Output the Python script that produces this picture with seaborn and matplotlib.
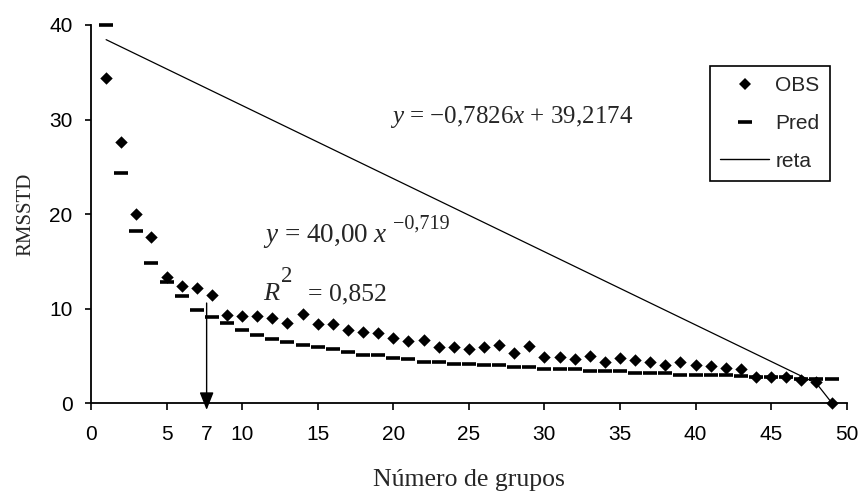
import matplotlib
matplotlib.use("Agg")
import matplotlib.pyplot as plt
import numpy as np
import pandas as pd
import seaborn as sns
from matplotlib.lines import Line2D

# ---------------- data ----------------
groups = list(range(1, 50))
obs = [34.4, 27.6, 20.0, 17.6, 13.4, 12.4, 12.2, 11.5, 9.3, 9.2,
       9.2, 9.0, 8.5, 9.4, 8.4, 8.4, 7.8, 7.5, 7.4, 6.9,
       6.6, 6.7, 6.0, 6.0, 5.7, 6.0, 6.2, 5.3, 6.1, 4.9,
       4.9, 4.7, 5.0, 4.4, 4.75, 4.6, 4.4, 4.05, 4.4, 4.05,
       3.95, 3.77, 3.6, 2.8, 2.8, 2.8, 2.5, 2.2, 0.07]
pred = [40.0, 24.3, 18.2, 14.8, 12.8, 11.3, 9.9, 9.1, 8.5, 7.8,
        7.2, 6.8, 6.5, 6.2, 5.9, 5.7, 5.4, 5.1, 5.1, 4.8,
        4.65, 4.4, 4.4, 4.2, 4.2, 4.0, 4.0, 3.8, 3.8, 3.6,
        3.6, 3.6, 3.45, 3.45, 3.45, 3.25, 3.25, 3.25, 3.0, 3.0,
        3.0, 3.0, 2.9, 2.75, 2.75, 2.75, 2.6, 2.6, 2.55]
reta_x = [1, 48, 49]
reta_y = [38.45, 2.1, 0.07]
x_ticks = [0, 5, 10, 15, 20, 25, 30, 35, 40, 45, 50]
y_ticks = [0, 10, 20, 30, 40]
cut_x = 7.65
cut_top = 10.6
cut_label = "7"
legend_labels = ["OBS", "Pred", "reta"]

df = pd.DataFrame({"grupos": groups, "OBS": obs, "Pred": pred})
df_reta = pd.DataFrame({"grupos": reta_x, "reta": reta_y})

# ---------------- style ----------------
sns.set_style("ticks")
plt.rcParams["font.family"] = ["Liberation Sans", "DejaVu Sans"]
plt.rcParams["mathtext.fontset"] = "custom"
plt.rcParams["mathtext.it"] = "Liberation Serif:italic"
plt.rcParams["mathtext.rm"] = "Liberation Serif"
plt.rcParams["axes.edgecolor"] = "black"
plt.rcParams["xtick.color"] = "black"
plt.rcParams["ytick.color"] = "black"

fig, ax = plt.subplots(figsize=(8.61, 4.95), dpi=100)
fig.subplots_adjust(left=0.1057, right=0.9834, bottom=0.1853, top=0.9495)

sns.lineplot(data=df_reta, x="grupos", y="reta", color="black", linewidth=0.9,
             ax=ax, legend=False)
sns.scatterplot(data=df, x="grupos", y="Pred", marker="_", s=110, color="black",
                linewidth=2.6, ax=ax, legend=False, zorder=3, clip_on=False)
sns.scatterplot(data=df, x="grupos", y="OBS", marker="D", s=40, color="black",
                edgecolor="black", linewidth=0, ax=ax, legend=False, zorder=4,
                clip_on=False)

ax.set_xlim(0, 50)
ax.set_ylim(0, 40)
sns.despine(ax=ax)
for sp in ("left", "bottom"):
    ax.spines[sp].set_linewidth(1.3)

ax.set_xticks(x_ticks)
ax.set_xticklabels([str(t) for t in x_ticks])
ax.set_yticks(y_ticks)
ax.set_yticklabels([str(t) for t in y_ticks])
ax.tick_params(axis="x", which="major", length=5, width=1.2, pad=11, labelsize=15)
ax.tick_params(axis="y", which="major", length=4.3, width=1.2, pad=9, labelsize=15)
ax.set_xticks([cut_x], labels=[cut_label], minor=True)
ax.tick_params(axis="x", which="minor", length=0, pad=16, labelsize=15)

ax.set_xlabel("Número de grupos", family="Liberation Serif", fontsize=18.5)
ax.set_ylabel("RMSSTD", family="Liberation Serif", fontsize=15)
ax.xaxis.set_label_coords(0.5, -0.175)
ax.yaxis.set_label_coords(-0.073, 0.5)

# arrow marking the chosen number of groups
ax.annotate("", xy=(cut_x, -0.7), xytext=(cut_x, cut_top),
            arrowprops=dict(arrowstyle="-|>,head_length=0.9,head_width=0.36",
                            color="black", lw=1, shrinkA=0, shrinkB=0,
                            mutation_scale=12),
            annotation_clip=False, zorder=5)

# equations
serif = "Liberation Serif"
ax.text(19.79, 29.67, r"$y$ = −0,7826$x$ + 39,2174", family=serif, fontsize=18,
        va="baseline", ha="left")
ax.text(11.38, 17.09, r"$y$ = 40,00 $x$", family=serif, fontsize=19.5,
        va="baseline", ha="left")
ax.text(19.95, 18.5, "−0,719", family=serif, fontsize=14.5, va="baseline", ha="left")
ax.text(11.4, 10.92, r"$R$", family=serif, fontsize=19, va="baseline", ha="left")
ax.text(12.6, 12.86, "2", family=serif, fontsize=16.5, va="baseline", ha="left")
ax.text(14.38, 10.92, "= 0,852", family=serif, fontsize=18.5, va="baseline", ha="left")

# legend
handles = [
    Line2D([], [], marker="D", ls="", color="black", ms=6.3, mew=0),
    Line2D([], [], marker="_", ls="", color="black", ms=10, mew=2.6),
    Line2D([], [], color="black", lw=1),
]
leg = ax.legend(handles, legend_labels, loc="upper right",
                bbox_to_anchor=(0.978, 0.892), borderaxespad=0, frameon=True,
                fancybox=False, edgecolor="black", framealpha=1, fontsize=15,
                handlelength=2.35, handletextpad=0.3, labelspacing=0.9,
                borderpad=0.5)
leg.get_frame().set_linewidth(1.2)

fig.savefig("out.png", dpi=100)
